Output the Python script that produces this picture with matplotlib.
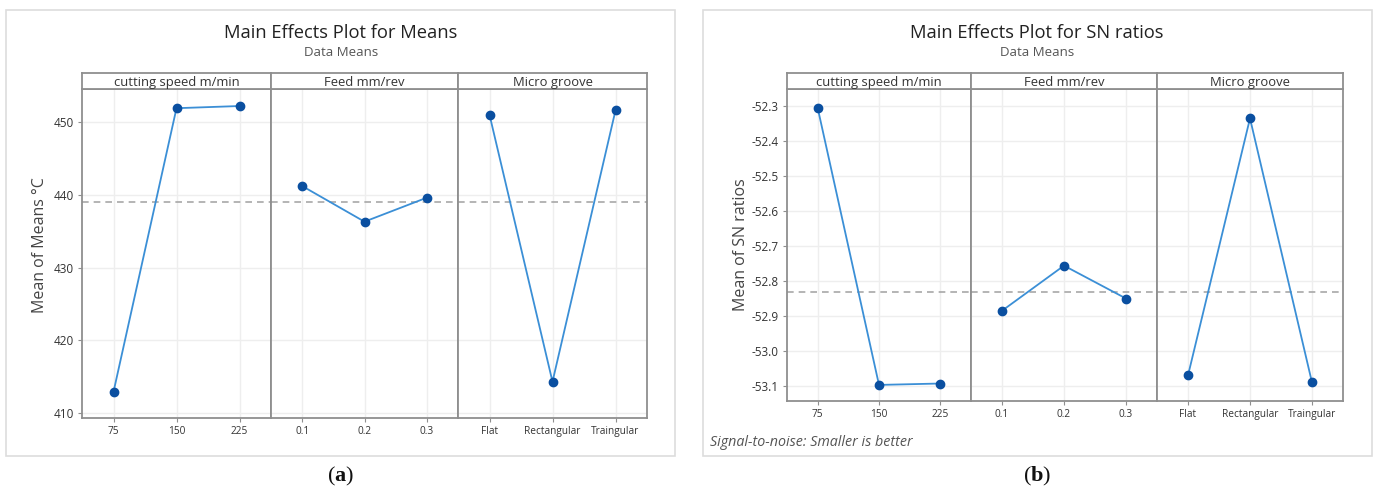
import matplotlib
matplotlib.use("Agg")
import matplotlib.pyplot as plt
from matplotlib.patches import Rectangle
import numpy as np

# ---------------- data ----------------
factor_names = ["cutting speed m/min", "Feed mm/rev", "Micro groove"]
speed_levels = ["75", "150", "225"]
feed_levels = ["0.1", "0.2", "0.3"]
groove_levels = ["Flat", "Rectangular", "Traingular"]

means_speed = [412.9, 451.9, 452.2]
means_feed = [441.2, 436.3, 439.6]
means_groove = [451.0, 414.3, 451.6]
means_grand = 439.0
means_yticks = [410, 420, 430, 440, 450]
means_yticklabels = ["410", "420", "430", "440", "450"]

sn_speed = [-52.305, -53.097, -53.093]
sn_feed = [-52.885, -52.756, -52.850]
sn_groove = [-53.070, -52.335, -53.090]
sn_grand = -52.83
sn_yticks = [-52.3, -52.4, -52.5, -52.6, -52.7, -52.8, -52.9, -53.0, -53.1]
sn_yticklabels = ["-52.3", "-52.4", "-52.5", "-52.6", "-52.7", "-52.8", "-52.9", "-53.0", "-53.1"]

# ---------------- style ----------------
plt.rcParams["font.family"] = ["Open Sans", "DejaVu Sans"]
plt.rcParams["axes.unicode_minus"] = False
plt.rcParams["mathtext.fontset"] = "custom"
plt.rcParams["mathtext.rm"] = "Liberation Serif"
plt.rcParams["mathtext.bf"] = "Liberation Serif:bold"

W, H = 1376, 496
fig = plt.figure(figsize=(W / 100, H / 100), dpi=100)

FRAME = "#8f8f8f"
LINE = "#3b8fd6"
MARK = "#0a4fa0"
GRID = "#eeeeee"
MEANC = "#a8a8a8"
TXT = "#333333"


def rect(x0, y0, x1, y1):
    return [x0 / W, 1 - y1 / H, (x1 - x0) / W, (y1 - y0) / H]


def draw_chart(xs, y_top, y_bot, strip_top, ylim, yticks, yticklabels, series, levels, grand):
    axes = []
    for i in range(3):
        ax = fig.add_axes(rect(xs[i], y_top, xs[i + 1], y_bot))
        pos = np.arange(1, 4)
        ax.plot(pos, series[i], color=LINE, lw=1.3, zorder=3)
        ax.plot(pos, series[i], "o", color=MARK, ms=6, zorder=4)
        ax.axhline(grand, color=MEANC, lw=1.2, ls=(0, (4, 3)), zorder=2)
        ax.set_xlim(0.5, 3.5)
        ax.set_ylim(*ylim)
        ax.set_xticks(pos)
        ax.set_xticklabels(levels[i], fontsize=7.3, color=TXT)
        ax.set_yticks(yticks)
        if i == 0:
            ax.set_yticklabels(yticklabels, fontsize=8.5, color=TXT)
        else:
            ax.tick_params(axis="y", left=False, labelleft=False)
        ax.grid(True, color=GRID, lw=1.0, zorder=0)
        ax.set_axisbelow(True)
        ax.tick_params(axis="both", length=3, width=0.8, color=FRAME, pad=3)
        for s in ax.spines.values():
            s.set_color(FRAME)
            s.set_linewidth(1.3)
        # strip
        sax = fig.add_axes(rect(xs[i], strip_top, xs[i + 1], y_top))
        sax.set_xticks([])
        sax.set_yticks([])
        for s in sax.spines.values():
            s.set_color(FRAME)
            s.set_linewidth(1.3)
        sax.text(0.5, 0.42, factor_names[i], ha="center", va="center",
                 fontsize=9.4, color=TXT, transform=sax.transAxes)
        axes.append(ax)
    return axes


levels = [speed_levels, feed_levels, groove_levels]

# outer boxes
for (x0, x1) in [(6, 675), (703, 1372)]:
    fig.patches.append(Rectangle((x0 / W, 1 - 456 / H), (x1 - x0) / W, (456 - 10) / H,
                                 transform=fig.transFigure, fill=False,
                                 edgecolor="#dddddd", lw=1.2))

# chart (a)
draw_chart([82, 271, 458, 647], 89, 418, 73, (409.31, 454.54),
           means_yticks, means_yticklabels,
           [means_speed, means_feed, means_groove], levels, means_grand)
# chart (b)
draw_chart([787, 971, 1157, 1343], 89, 401, 73, (-53.143, -52.251),
           sn_yticks, sn_yticklabels,
           [sn_speed, sn_feed, sn_groove], levels, sn_grand)

# titles
for cx, title, ylab, ylx in [(341, "Main Effects Plot for Means", "Mean of Means \u00b0C", 40),
                            (1037, "Main Effects Plot for SN ratios", "Mean of SN ratios", 741)]:
    fig.text(cx / W, 1 - 33 / H, title, ha="center", va="center", fontsize=13.2, color="#222222")
    fig.text(cx / W, 1 - 53 / H, "Data Means", ha="center", va="center", fontsize=9.5, color="#555555")
    fig.text(ylx / W, 1 - 245 / H, ylab, ha="center", va="center", rotation=90,
             fontsize=11.5, color="#444444")

fig.text(710 / W, 1 - 442 / H, "Signal-to-noise: Smaller is better", ha="left", va="center",
         fontsize=10.3, style="italic", color="#555555")

fig.text(341 / W, 1 - 476 / H, r"($\mathbf{a}$)", ha="center", va="center", fontsize=16,
         family="Liberation Serif", color="#111111")
fig.text(1037 / W, 1 - 476 / H, r"($\mathbf{b}$)", ha="center", va="center", fontsize=16,
         family="Liberation Serif", color="#111111")

fig.savefig("out.png", dpi=100, facecolor="white")
